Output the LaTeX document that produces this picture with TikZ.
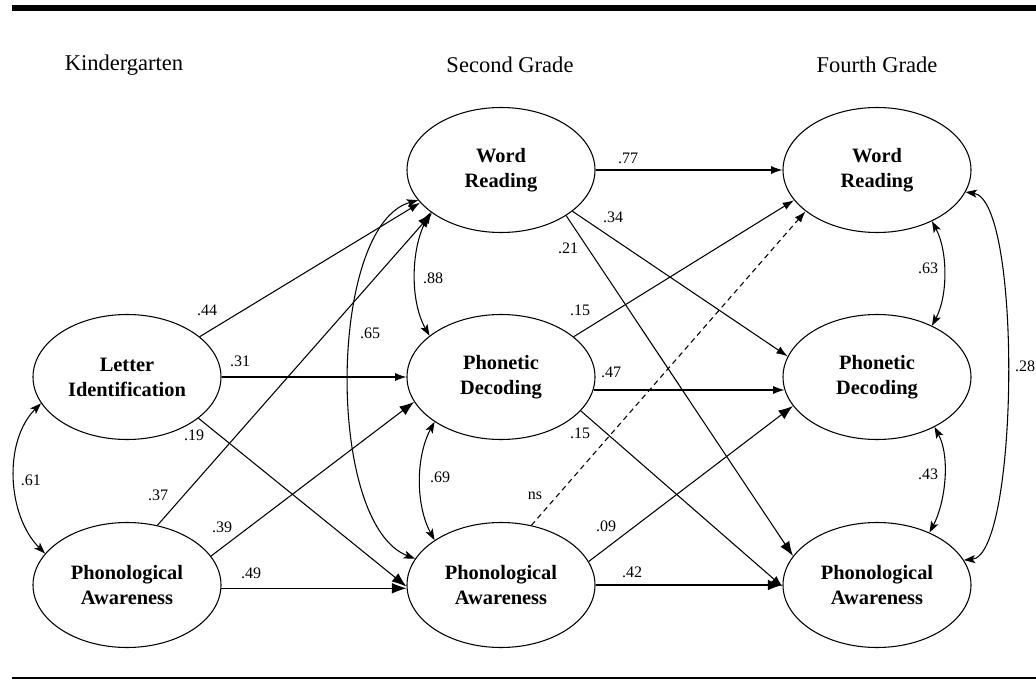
\documentclass[tikz,border=0pt]{standalone}
\usepackage{fontspec}
\setmainfont{Liberation Serif}
\usetikzlibrary{shapes.geometric,arrows.meta}
\begin{document}
\begin{tikzpicture}[x=0.75pt,y=-0.75pt,
  var/.style={ellipse,draw,line width=0.8pt,minimum width=141pt,minimum height=93.75pt,inner sep=0pt,align=center,font=\fontsize{15.3}{18.75}\selectfont\bfseries},
  hdr/.style={font=\fontsize{16.9}{19}\selectfont,inner sep=0pt},
  lab/.style={font=\fontsize{12}{14}\selectfont,inner sep=0pt},
  pth/.style={line width=0.8pt,-{Latex[length=8.5pt,width=6pt]}},
  pthbig/.style={line width=0.8pt,-{Latex[length=11pt,width=8pt]}},
  cov/.style={line width=0.8pt,{Stealth[length=8.5pt,width=6pt,inset=2pt]}-{Stealth[length=8.5pt,width=6pt,inset=2pt]}},
  nsline/.style={line width=0.8pt,dash pattern=on 4pt off 3pt,-{Latex[length=8.5pt,width=6pt]}}
]
\useasboundingbox (0,0) rectangle (1036,681);
\fill (12,5) rectangle (1036,11);
\draw[line width=0.9pt] (12,678) -- (1036,678);

% headers
\node[hdr] (hK) at (124,65) {Kindergarten};
\node[hdr] (h2) at (510,65) {Second Grade};
\node[hdr] (h4) at (877,65) {Fourth Grade};

% latent variables
\node[var] (LI)  at (127,377) {Letter\\Identification};
\node[var] (PK)  at (127,585) {Phonological\\Awareness};
\node[var] (WR2) at (501,170) {Word\\Reading};
\node[var] (PD2) at (501,377) {Phonetic\\Decoding};
\node[var] (PA2) at (501,585) {Phonological\\Awareness};
\node[var] (WR4) at (877,170) {Word\\Reading};
\node[var] (PD4) at (877,377) {Phonetic\\Decoding};
\node[var] (PA4) at (877,585) {Phonological\\Awareness};

% kindergarten -> second grade
\draw[pth]    (LI.29)  -- (WR2.202);
\draw[pth]    (LI.0)   -- (PD2.180);
\draw[pthbig] (LI.330) -- (PA2.181);
\draw[pthbig] (PK.63)  -- (WR2.212);
\draw[pthbig] (PK.19)  -- (PD2.196);
\draw[pthbig] (PK.358) -- (PA2.182);

% second grade -> fourth grade
\draw[pth]    (WR2.0)   -- (WR4.180);
\draw[pth]    (WR2.330) -- (PD4.167);
\draw[pthbig] (WR2.325) -- (PA4.161);
\draw[pth]    (PD2.29)  -- (WR4.200);
\draw[pth]    (PD2.352) -- (PD4.188);
\draw[pth]    (PD2.337) -- (PA4.181);
\draw[nsline] (PA2.63)  -- (WR4.210);
\draw[pthbig] (PA2.15)  -- (PD4.199);
\draw[pthbig] (PA2.0)   -- (PA4.180);

% covariances
\draw[cov] (LI.197) .. controls +(-38,38) and +(-38,-38) .. (PK.159);
\draw[cov] (WR2.211) .. controls +(-20,35) and +(-20,-35) .. (PD2.150);
\draw[cov] (PD2.214) .. controls +(-19,35) and +(-19,-35) .. (PA2.146);
\draw[cov] (WR2.200) .. controls +(-90,25) and +(-90,-35) .. (PA2.163);
\draw[cov] (WR4.317) .. controls +(16,30) and +(16,-30) .. (PD4.43);
\draw[cov] (PD4.319) .. controls +(16,30) and +(16,-30) .. (PA4.45);
\draw[cov] (WR4.346) .. controls +(57,8) and +(55,-5) .. (PA4.16);

% labels
\node[lab] (l44) at (207,310) {.44};
\node[lab] (l31) at (240,361) {.31};
\node[lab] (l19) at (194,435) {.19};
\node[lab] (l61) at (31,480) {.61};
\node[lab] (l37) at (158,495) {.37};
\node[lab] (l39) at (222,527) {.39};
\node[lab] (l49) at (251,573) {.49};
\node[lab] (l65) at (370,333) {.65};
\node[lab] (l88) at (433,278) {.88};
\node[lab] (l69) at (440,477) {.69};
\node[lab] (l77) at (628,158) {.77};
\node[lab] (l34) at (613,217) {.34};
\node[lab] (l21) at (568,248) {.21};
\node[lab] (l15a) at (580,310) {.15};
\node[lab] (l47) at (611,372) {.47};
\node[lab] (l15b) at (580,433) {.15};
\node[lab] (lns) at (535,496) {ns};
\node[lab] (l09) at (606,526) {.09};
\node[lab] (l42) at (632,572) {.42};
\node[lab] (l63) at (928,268) {.63};
\node[lab] (l43) at (928,474) {.43};
\node[lab] (l28) at (1025,366) {.28};
\end{tikzpicture}
\end{document}
